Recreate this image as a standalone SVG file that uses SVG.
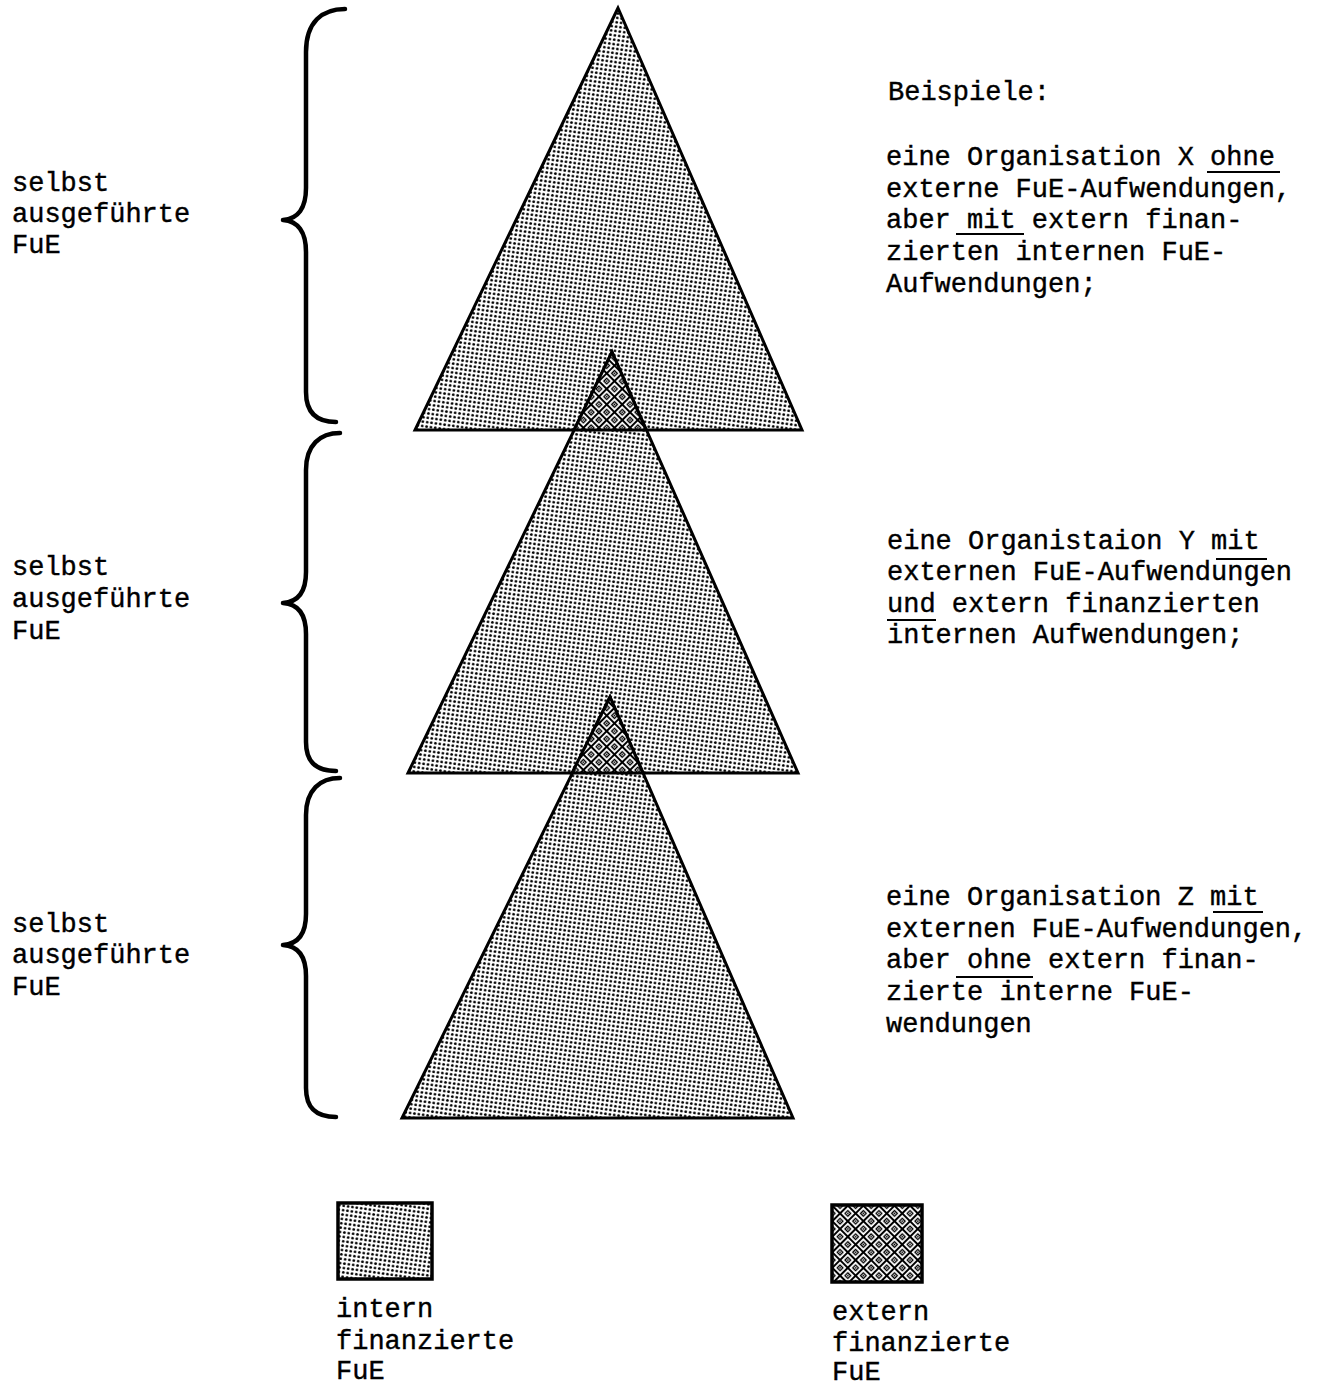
<svg xmlns="http://www.w3.org/2000/svg" width="1329" height="1389" viewBox="0 0 1329 1389">
  <defs>
    <!-- coarse dot screen: internally financed R&D -->
    <pattern id="stipple" width="4.4" height="4.4" patternUnits="userSpaceOnUse" patternTransform="rotate(8)">
      <rect width="4.4" height="4.4" fill="#fff"/>
      <circle cx="2.2" cy="2.2" r="1.4" fill="#000"/>
    </pattern>
    <!-- diamond lattice: externally financed R&D -->
    <pattern id="lattice" width="11" height="11" patternUnits="userSpaceOnUse" patternTransform="rotate(45)">
      <rect width="11" height="11" fill="#000"/>
      <rect x="1.9" y="1.9" width="7.2" height="7.2" fill="none" stroke="#fff" stroke-width="1.8"/>
      <rect x="4.1" y="4.1" width="2.8" height="2.8" fill="#fff"/>
      <circle cx="5.5" cy="5.5" r="0.9" fill="#000"/>
    </pattern>
    <style>
      text { font-family: "Liberation Mono", "Courier New", monospace; font-size: 27px; fill: #000; stroke: #000; stroke-width: 0.4; }
      .tri { fill: url(#stipple); stroke: #000; stroke-width: 3; stroke-linejoin: miter; }
      .tip { fill: url(#lattice); stroke: #000; stroke-width: 3; }
      .brace { fill: none; stroke: #000; stroke-width: 4.5; stroke-linecap: round; stroke-linejoin: round; }
      .ul { stroke: #000; stroke-width: 2; }
      .key { stroke: #000; stroke-width: 3.5; }
    </style>
  </defs>

  <rect width="1329" height="1389" fill="#fff"/>

  <!-- three stacked triangles -->
  <g id="triangle-x">
    <polygon class="tri" points="618,8 415,430 802,430"/>
  </g>
  <g id="triangle-y">
    <polygon class="tri" points="612,352 408,773 798,773"/>
    <polygon class="tip" points="612,352 574,430 646,430"/>
  </g>
  <g id="triangle-z">
    <polygon class="tri" points="610,697 402,1118 793,1118"/>
    <polygon class="tip" points="610,697 572,773 643,773"/>
  </g>

  <!-- curly braces -->
  <g id="braces">
    <path class="brace" d="M345,9 C322,9 306,22 306,52 L306,188 C306,208 298,219 283,220 C298,221 306,232 306,252 L306,392 C306,412 316,422 336,422"/>
    <path class="brace" d="M340,433 C320,433 306,445 306,470 L306,572 C306,592 298,602 283,603 C298,604 306,614 306,634 L306,742 C306,762 316,771 336,771"/>
    <path class="brace" d="M340,778 C320,778 306,790 306,815 L306,914 C306,934 298,944 283,945 C298,946 306,956 306,976 L306,1088 C306,1108 316,1117 336,1117"/>
  </g>

  <!-- left labels -->
  <g id="label-left-1">
    <text x="12" y="191">selbst</text>
    <text x="12" y="222">ausgeführte</text>
    <text x="12" y="253">FuE</text>
  </g>
  <g id="label-left-2">
    <text x="12" y="575">selbst</text>
    <text x="12" y="607">ausgeführte</text>
    <text x="12" y="639">FuE</text>
  </g>
  <g id="label-left-3">
    <text x="12" y="932">selbst</text>
    <text x="12" y="963">ausgeführte</text>
    <text x="12" y="995">FuE</text>
  </g>

  <!-- right-hand examples -->
  <g id="examples-x">
    <text x="888" y="100">Beispiele:</text>
    <text x="886" y="165">eine Organisation X ohne</text>
    <text x="886" y="197">externe FuE-Aufwendungen,</text>
    <text x="886" y="228">aber mit extern finan-</text>
    <text x="886" y="260">zierten internen FuE-</text>
    <text x="886" y="292">Aufwendungen;</text>
    <line class="ul" x1="1207" y1="172" x2="1280" y2="172"/>
    <line class="ul" x1="956" y1="234" x2="1024" y2="234"/>
  </g>
  <g id="examples-y">
    <text x="887" y="549">eine Organistaion Y mit</text>
    <text x="887" y="580">externen FuE-Aufwendungen</text>
    <text x="887" y="612">und extern finanzierten</text>
    <text x="887" y="643">internen Aufwendungen;</text>
    <line class="ul" x1="1216" y1="559" x2="1267" y2="559"/>
    <line class="ul" x1="887" y1="620" x2="936" y2="620"/>
  </g>
  <g id="examples-z">
    <text x="886" y="905">eine Organisation Z mit</text>
    <text x="886" y="937">externen FuE-Aufwendungen,</text>
    <text x="886" y="968">aber ohne extern finan-</text>
    <text x="886" y="1000">zierte interne FuE-</text>
    <text x="886" y="1032">wendungen</text>
    <line class="ul" x1="1213" y1="912" x2="1263" y2="912"/>
    <line class="ul" x1="956" y1="977" x2="1033" y2="977"/>
  </g>

  <!-- legend -->
  <g id="legend-intern">
    <rect class="key" x="338" y="1203" width="94" height="76" fill="url(#stipple)"/>
    <text x="336" y="1317">intern</text>
    <text x="336" y="1349">finanzierte</text>
    <text x="336" y="1379">FuE</text>
  </g>
  <g id="legend-extern">
    <rect class="key" x="832" y="1205" width="90" height="77" fill="url(#lattice)"/>
    <text x="832" y="1320">extern</text>
    <text x="832" y="1351">finanzierte</text>
    <text x="832" y="1380">FuE</text>
  </g>
</svg>
